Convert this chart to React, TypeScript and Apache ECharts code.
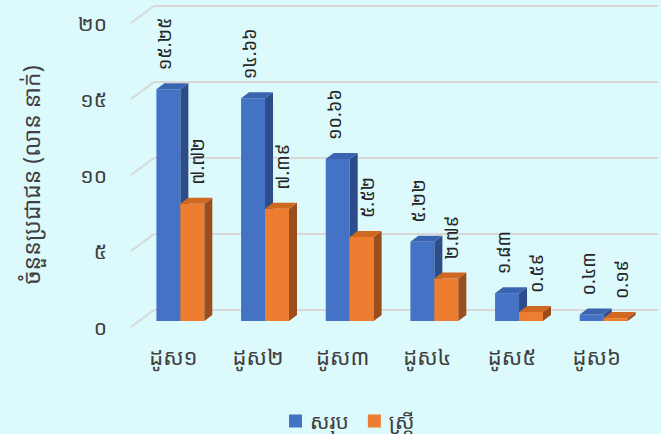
import React, { useEffect, useRef } from "react";
import * as echarts from "echarts";

const categories = ["ដូស១", "ដូស២", "ដូស៣", "ដូស៤", "ដូស៥", "ដូស៦"];
const totalValues = [15.25, 14.66, 10.66, 5.22, 1.83, 0.43];
const femaleValues = [7.72, 7.39, 5.52, 2.79, 0.59, 0.19];
const yTicks = [0, 5, 10, 15, 20];
const seriesNames = ["សរុប", "ស្ត្រី"];
const yAxisName = "ចំនួនប្រជាជន (លាន នាក់)";

const KH = "០១២៣៤៥៦៧៨៩";
const toKh = (s: string) => s.replace(/\d/g, (d) => KH[+d]);

const FONT = "'Noto Sans Khmer', 'Khmer OS', 'Noto Sans', sans-serif";

const palettes = [
  { front: "#4472C4", side: "#2c4d89", top: "#3b64b0" },
  { front: "#ED7D31", side: "#9c4d1c", top: "#cf6821" },
];

function makeBarRender(si: number) {
  return (params: any, api: any) => {
    const idx = api.value(0);
    const v = api.value(1);
    const c = api.coord([idx, v]);
    const c0 = api.coord([idx, 0]);
    const band = api.size([1, 0])[0];
    const w = band * 0.283;
    const shift = band * 0.083;
    const center = c[0] + shift;
    const x0 = si === 0 ? center - w : center;
    const x1 = x0 + w;
    const yb = c0[1] - 6;
    const yt = c[1] - 6;
    const dx = 8;
    const dy = 6;
    const p = palettes[si];
    const labelX = (x0 + x1) / 2 + (si === 0 ? -4 : 5);
    return {
      type: "group",
      children: [
        {
          type: "rect",
          shape: { x: x0, y: yt, width: w, height: yb - yt },
          style: { fill: p.front },
        },
        {
          type: "polygon",
          shape: { points: [[x1, yt], [x1 + dx, yt - dy], [x1 + dx, yb - dy], [x1, yb]] },
          style: { fill: p.side },
        },
        {
          type: "polygon",
          shape: { points: [[x0, yt], [x1, yt], [x1 + dx, yt - dy], [x0 + dx, yt - dy]] },
          style: { fill: p.top },
        },
        {
          type: "text",
          x: labelX,
          y: yt - dy - 13,
          rotation: Math.PI / 2,
          style: {
            text: toKh(v.toFixed(2)),
            fill: "#262626",
            font: `18px ${FONT}`,
            align: "left",
            verticalAlign: "middle",
          },
        },
      ],
    };
  };
}

function gridRender(params: any, api: any) {
  const t = api.value(1);
  const y = api.coord([0, t])[1];
  const left = params.coordSys.x;
  return {
    type: "polyline",
    shape: { points: [[left, y], [left + 23, y - 17], [api.getWidth() - 3, y - 17]] },
    style: { stroke: "#d8d8d8", lineWidth: 2, fill: "none" },
  };
}

export default function App() {
  const ref = useRef<HTMLDivElement>(null);
  useEffect(() => {
    document.body.style.margin = "0";
    const chart = echarts.init(ref.current!, undefined, { renderer: "svg" });
    chart.setOption({
      animation: false,
      backgroundColor: "#dcf9fc",
      textStyle: { fontFamily: FONT },
      legend: {
        data: seriesNames,
        top: 406,
        left: 289,
        padding: 0,
        icon: "rect",
        itemWidth: 13,
        itemHeight: 13,
        itemGap: 19,
        textStyle: {
          fontSize: 21,
          lineHeight: 30,
          color: "#404040",
          fontFamily: FONT,
          padding: [0, 0, 0, 3],
        },
      },
      grid: { left: 131, right: 22, top: 23, bottom: 107 },
      xAxis: {
        type: "category",
        data: categories,
        axisLine: { show: false },
        axisTick: { show: false },
        axisLabel: { fontSize: 22, color: "#404040", margin: 18, fontFamily: FONT },
        splitLine: { show: false },
      },
      yAxis: {
        type: "value",
        min: 0,
        max: 20,
        interval: 5,
        name: yAxisName,
        nameLocation: "middle",
        nameRotate: 90,
        nameGap: 89,
        nameTextStyle: { fontSize: 23, color: "#404040", fontFamily: FONT },
        axisLine: { show: false },
        axisTick: { show: false },
        splitLine: { show: false },
        axisLabel: {
          fontSize: 21,
          color: "#404040",
          margin: 24,
          fontFamily: FONT,
          formatter: (v: number) => toKh(String(v)),
        },
      },
      series: [
        {
          type: "custom",
          name: "grid",
          renderItem: gridRender,
          data: yTicks.map((t) => [0, t]),
          encode: { x: 0, y: 1 },
          z: 1,
          silent: true,
        },
        {
          type: "custom",
          name: seriesNames[0],
          renderItem: makeBarRender(0),
          itemStyle: { color: palettes[0].front },
          data: totalValues.map((v, i) => [i, v]),
          encode: { x: 0, y: 1 },
          z: 2,
        },
        {
          type: "custom",
          name: seriesNames[1],
          renderItem: makeBarRender(1),
          itemStyle: { color: palettes[1].front },
          data: femaleValues.map((v, i) => [i, v]),
          encode: { x: 0, y: 1 },
          z: 3,
        },
      ],
    });
    return () => chart.dispose();
  }, []);
  return <div ref={ref} style={{ width: 661, height: 434 }} />;
}
